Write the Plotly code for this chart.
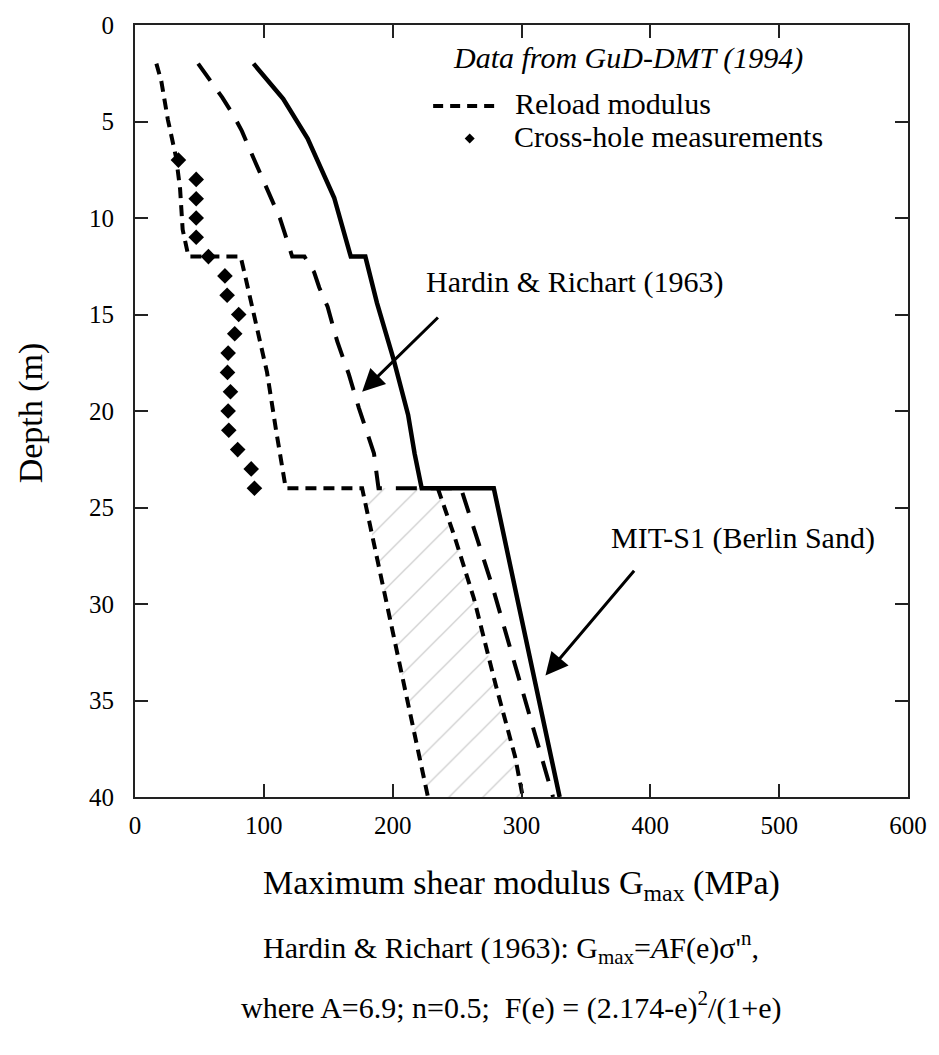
import plotly.graph_objects as go

# ---------------- data ----------------
# Reload modulus (lower bound), depth in m, G in MPa
reload_depth = [2, 2.9, 4.9, 6.9, 8.5, 10.6, 12, 12, 13, 15, 18, 21, 24, 24, 40]
reload_g = [16.6, 20.4, 25.5, 32, 35, 37, 41.5, 82, 85.5, 92, 102.5, 109.5, 117, 176.3, 227.4]
# Reload modulus (upper bound below 24 m)
reload_up_depth = [24, 26.5, 29.7, 34.2, 37.9, 40]
reload_up_g = [235, 248, 263, 280, 295, 301]

# Hardin & Richart (1963)
hr_depth = [2, 2.9, 3.75, 4.7, 5.5, 6.5, 7.3, 8.3, 9, 10, 10.8, 12, 12, 12.8, 13.6,
            14.6, 16.4, 18.1, 19.85, 22.2, 23.4, 24, 24, 29.06, 40]
hr_g = [49, 58.8, 67.7, 76.6, 83, 89.4, 94.5, 101, 106, 112.4, 116.3, 122, 131.6, 139, 143,
        149.5, 157, 166, 173.8, 185.5, 187.8, 189, 253, 277.3, 324.5]

# MIT-S1 (Berlin Sand)
mit_depth = [2, 3.83, 5.88, 8.95, 12, 12, 14.4, 17.3, 20.2, 22.2, 24, 24, 30, 40]
mit_g = [92, 115, 134, 154.6, 167.5, 178.8, 187.8, 200.6, 212, 217, 222.5, 278.5, 297.6, 329.6]

# Cross-hole measurements
ch_depth = [7, 8, 9, 10, 11, 12, 13, 14, 15, 16, 17, 18, 19, 20, 21, 22, 23, 24]
ch_g = [33.7, 47.5, 47.5, 47.5, 47.5, 57, 69.8, 71.5, 80.5, 77.4, 72.3, 71.8, 74.1, 72.3,
        72.8, 79.7, 90.2, 92.7]

x_ticks = [0, 100, 200, 300, 400, 500, 600]
y_ticks = [0, 5, 10, 15, 20, 25, 30, 35, 40]

FONT = "Liberation Serif, Times New Roman, serif"

fig = go.Figure()

# hatched band between the reload bounds (24-40 m)
band_depth = [d for d in reload_depth if d >= 24][1:] + reload_up_depth[::-1]
band_g = [g for d, g in zip(reload_depth, reload_g) if d >= 24][1:] + reload_up_g[::-1]
fig.add_trace(go.Scatter(
    x=band_g, y=band_depth, mode="lines", fill="toself",
    line=dict(width=0, color="rgba(0,0,0,0)"),
    fillcolor="rgba(0,0,0,0)",
    fillpattern=dict(shape="/", fgcolor="#8c8c8c", bgcolor="rgba(255,255,255,0)",
                     size=24, solidity=0.05, fillmode="overlay"),
    hoverinfo="skip", showlegend=False))

fig.add_trace(go.Scatter(x=reload_g, y=reload_depth, mode="lines",
                         line=dict(color="black", width=4, dash="11px,7px"),
                         showlegend=False))
fig.add_trace(go.Scatter(x=reload_up_g, y=reload_up_depth, mode="lines",
                         line=dict(color="black", width=4, dash="11px,7px"),
                         showlegend=False))
fig.add_trace(go.Scatter(x=hr_g, y=hr_depth, mode="lines",
                         line=dict(color="black", width=4, dash="21px,14px"),
                         showlegend=False))
fig.add_trace(go.Scatter(x=mit_g, y=mit_depth, mode="lines",
                         line=dict(color="black", width=4.5),
                         showlegend=False))
fig.add_trace(go.Scatter(x=ch_g, y=ch_depth, mode="markers",
                         marker=dict(symbol="diamond", size=12, color="black",
                                     line=dict(width=0)),
                         showlegend=False))

axis_common = dict(
    showline=True, linecolor="#222", linewidth=2, mirror="ticks",
    ticks="inside", ticklen=13, tickwidth=1.5, tickcolor="#222",
    showgrid=False, zeroline=False,
    tickfont=dict(family=FONT, size=25, color="black"),
)
fig.update_xaxes(range=[0, 600], tickvals=x_ticks, ticklabelstandoff=5, **axis_common)
fig.update_yaxes(range=[40, 0], tickvals=y_ticks, ticklabelstandoff=14, **axis_common)

L, R, T, B = 135, 21, 15, 258
W, H = 939, 1055
PW, PH = W - L - R, H - T - B


def px(xp):
    return (xp - L) / PW


def py(yp):
    return (H - B - yp) / PH


ann = []
# axis titles
ann.append(dict(text="Depth (m)", xref="paper", yref="paper", x=px(30), y=py(408),
                xanchor="center", yanchor="middle", textangle=-90, showarrow=False,
                font=dict(family=FONT, size=34, color="black")))
ann.append(dict(text="Maximum shear modulus G<sub>max</sub> (MPa)", xref="paper", yref="paper",
                x=px(527), y=py(886), xanchor="center", yanchor="middle", showarrow=False,
                font=dict(family=FONT, size=34, color="black")))
ann.append(dict(text="Hardin & Richart (1963): G<sub>max</sub>=<i>A</i>F(e)σ'<sup>n</sup>,",
                xref="paper", yref="paper", x=px(263), y=py(949), xanchor="left",
                yanchor="middle", showarrow=False,
                font=dict(family=FONT, size=30, color="black")))
ann.append(dict(text="where A=6.9; n=0.5;  F(e) = (2.174-e)<sup>2</sup>/(1+e)",
                xref="paper", yref="paper", x=px(240), y=py(1008), xanchor="left",
                yanchor="middle", showarrow=False,
                font=dict(family=FONT, size=30, color="black")))
# legend block
ann.append(dict(text="<i>Data from GuD-DMT (1994)</i>", xref="paper", yref="paper",
                x=px(455), y=py(48), xanchor="left", yanchor="middle", showarrow=False,
                font=dict(family=FONT, size=30, color="black")))
ann.append(dict(text="Reload modulus", xref="paper", yref="paper",
                x=px(518), y=py(95), xanchor="left", yanchor="middle", showarrow=False,
                font=dict(family=FONT, size=30, color="black")))
ann.append(dict(text="Cross-hole measurements", xref="paper", yref="paper",
                x=px(517), y=py(128), xanchor="left", yanchor="middle", showarrow=False,
                font=dict(family=FONT, size=30, color="black")))
# curve labels
ann.append(dict(text="Hardin & Richart (1963)", xref="x", yref="y",
                x=224, y=13.3, xanchor="left", yanchor="middle", showarrow=False,
                font=dict(family=FONT, size=30, color="black")))
ann.append(dict(text="MIT-S1 (Berlin Sand)", xref="x", yref="y",
                x=368, y=26.6, xanchor="left", yanchor="middle", showarrow=False,
                font=dict(family=FONT, size=30, color="black")))
# arrows
ann.append(dict(text="", xref="x", yref="y", x=176.3, y=19.0, axref="x", ayref="y",
                ax=236.3, ay=15.08, showarrow=True, arrowhead=2, arrowsize=1.5,
                arrowwidth=3, arrowcolor="black"))
ann.append(dict(text="", xref="x", yref="y", x=318.6, y=33.7, axref="x", ayref="y",
                ax=388.4, ay=28.2, showarrow=True, arrowhead=2, arrowsize=1.5,
                arrowwidth=3, arrowcolor="black"))

shapes = [
    dict(type="line", xref="paper", yref="paper", x0=px(437), x1=px(500),
         y0=py(97), y1=py(97), line=dict(color="black", width=4, dash="10px,7px")),
    dict(type="path", xref="paper", yref="paper", xsizemode="pixel", ysizemode="pixel",
         xanchor=px(474), yanchor=py(130), path="M -5 0 L 0 5 L 5 0 L 0 -5 Z",
         fillcolor="black", line=dict(width=0)),
]

fig.update_layout(
    width=W, height=H, autosize=False,
    margin=dict(l=L, r=R, t=T, b=B, pad=0),
    paper_bgcolor="white", plot_bgcolor="white",
    font=dict(family=FONT, color="black"),
    annotations=ann, shapes=shapes, showlegend=False,
)

fig.write_html("out.html")
